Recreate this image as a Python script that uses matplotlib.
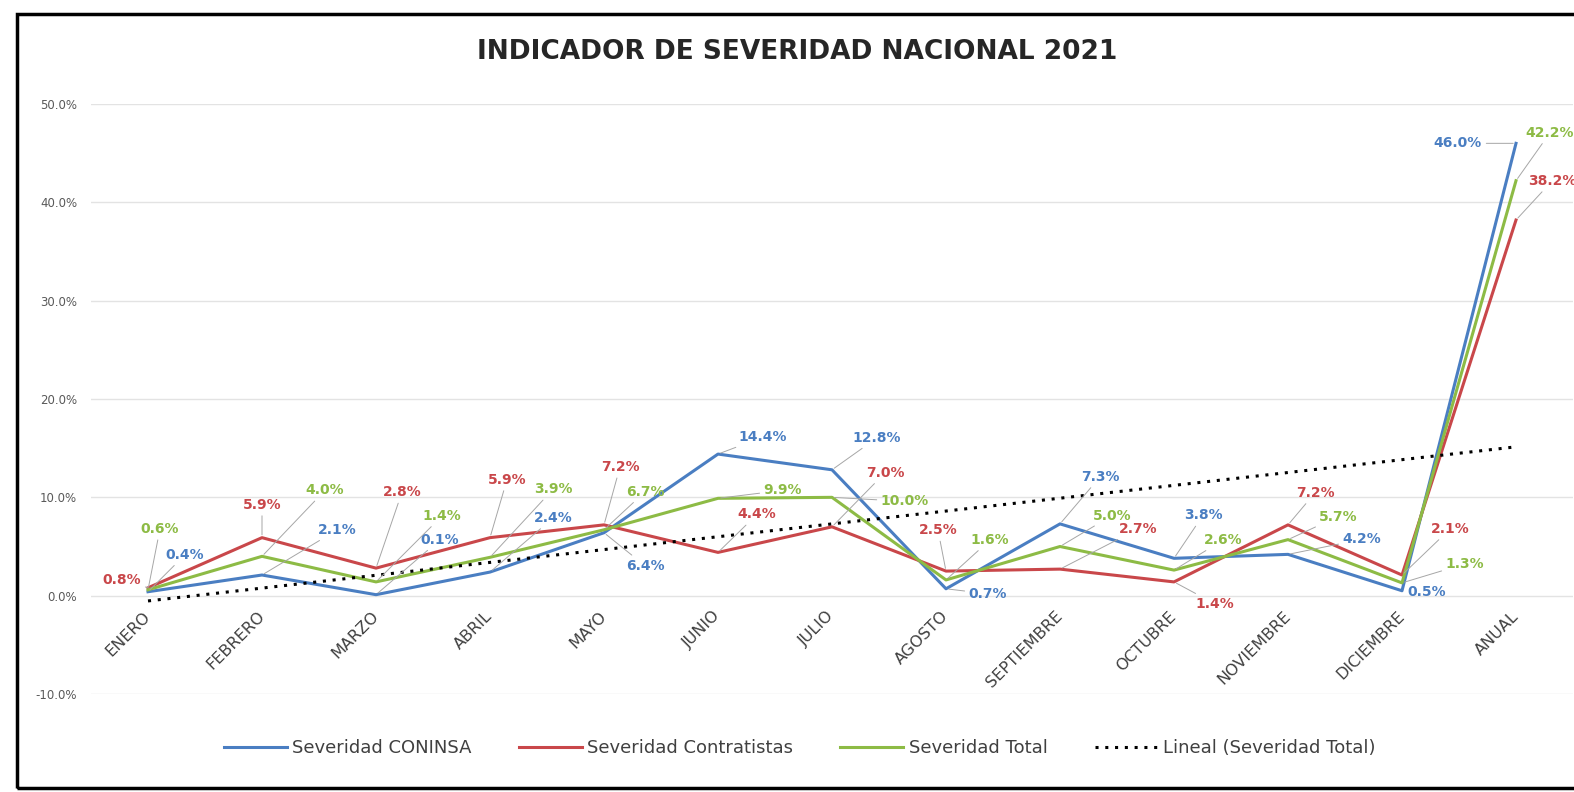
import matplotlib.pyplot as plt
from matplotlib.patches import Rectangle
import numpy as np

meses = ['ENERO', 'FEBRERO', 'MARZO', 'ABRIL', 'MAYO', 'JUNIO', 'JULIO',
         'AGOSTO', 'SEPTIEMBRE', 'OCTUBRE', 'NOVIEMBRE', 'DICIEMBRE', 'ANUAL']
coninsa = [0.4, 2.1, 0.1, 2.4, 6.4, 14.4, 12.8, 0.7, 7.3, 3.8, 4.2, 0.5, 46.0]
contratistas = [0.8, 5.9, 2.8, 5.9, 7.2, 4.4, 7.0, 2.5, 2.7, 1.4, 7.2, 2.1, 38.2]
total = [0.6, 4.0, 1.4, 3.9, 6.7, 9.9, 10.0, 1.6, 5.0, 2.6, 5.7, 1.3, 42.2]

# label offsets in pixels (dx, dy up) from each point
off_coninsa = [(37, 37), (75, 45), (64, 55), (63, 54), (41, -33), (45, 17), (45, 32),
               (42, -5), (40, 47), (29, 43), (74, 15), (25, -1), (-58, 0)]
off_contr = [(-26, 8), (0, 33), (26, 76), (17, 58), (16, 58), (39, 38), (53, 54),
             (-8, 41), (78, 40), (41, -22), (27, 32), (48, 46), (36, 39)]
off_total = [(12, 61), (63, 66), (66, 66), (63, 68), (41, 38), (65, 8), (73, -4),
             (44, 40), (52, 31), (49, 30), (50, 23), (63, 19), (34, 48)]

azul = '#4A7EC2'
rojo = '#C9474A'
verde = '#8DBB45'

plt.rcParams['font.family'] = ['DejaVu Sans']

fig = plt.figure(figsize=(15.74, 7.92), dpi=100)
ax = fig.add_axes([91/1574, 1-694/792, (1573-91)/1574, (694-104)/792])

x = np.arange(len(meses))
ax.plot(x, coninsa, color=azul, lw=2.2, label='Severidad CONINSA', zorder=3)
ax.plot(x, contratistas, color=rojo, lw=2.2, label='Severidad Contratistas', zorder=3)
ax.plot(x, total, color=verde, lw=2.2, label='Severidad Total', zorder=3)

# tendencia lineal de la serie total
p = np.polyfit(x, total, 1)
ax.plot(x, np.polyval(p, x), color='black', lw=2.2, ls=(0, (1, 2.2)),
        label='Lineal (Severidad Total)', zorder=4)

def etiquetas(vals, offs, col):
    for i, (v, o) in enumerate(zip(vals, offs)):
        far = abs(o[0]) + abs(o[1]) > 30
        ax.annotate('%.1f%%' % v, xy=(i, v), xytext=o, textcoords='offset pixels',
                    ha='center', va='center', color=col, fontsize=10, fontweight='bold',
                    annotation_clip=False, zorder=5,
                    arrowprops=dict(arrowstyle='-', color='#A6A6A6', lw=0.7,
                                    shrinkA=1, shrinkB=2) if far else None)

etiquetas(coninsa, off_coninsa, azul)
etiquetas(contratistas, off_contr, rojo)
etiquetas(total, off_total, verde)

ax.spines['bottom'].set_position(('data', 0))
for s in ax.spines.values():
    s.set_visible(False)
ax.set_xlim(-0.5, 12.5)
ax.set_ylim(-10, 50)
ax.set_yticks(np.arange(-10, 51, 10))
ax.set_yticklabels(['%.1f%%' % t for t in np.arange(-10, 51, 10)])
ax.set_xticks(x)
ax.set_xticklabels(meses, rotation=45, ha='right', va='center', rotation_mode='anchor')
ax.tick_params(axis='x', length=0, pad=13, labelsize=11.5, labelcolor='#404040')
ax.tick_params(axis='y', length=0, pad=10, labelsize=8.5, labelcolor='#595959')
ax.grid(True, axis='y', color='#E3E3E3', lw=1)
ax.set_axisbelow(True)

fig.text(797/1574, 1-52/792, 'INDICADOR DE SEVERIDAD NACIONAL 2021', ha='center',
         va='center', fontsize=19, fontweight='bold', color='#262626')

fig.legend(loc='center', bbox_to_anchor=(0.508, 1-748/792), ncol=4, frameon=False,
           fontsize=13, handlelength=3.5, handletextpad=0.3, columnspacing=2.6,
           labelcolor='#404040')

fig.patches.append(Rectangle((17/1574, 4/792), 1.0, (788-14)/792, transform=fig.transFigure,
                             fill=False, ec='black', lw=2.5))

plt.savefig('out.png')
